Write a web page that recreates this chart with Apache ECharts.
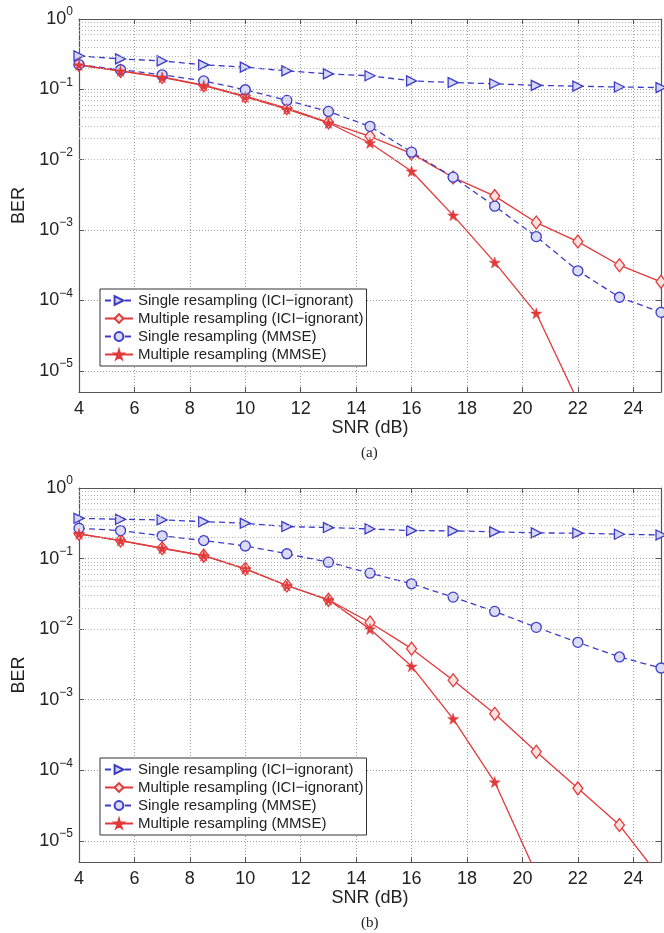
<!DOCTYPE html>
<html>
<head>
<meta charset="utf-8">
<script src="https://cdn.jsdelivr.net/npm/echarts@6/dist/echarts.min.js"></script>
<style>
html,body{margin:0;padding:0;background:#fff;}
#chart{width:664px;height:933px;}
</style>
</head>
<body>
<div id="chart"></div>
<script>
// ---- data ----
const snr = [4, 5.5, 7, 8.5, 10, 11.5, 13, 14.5, 16, 17.5, 19, 20.5, 22, 23.5, 25];
const seriesNames = [
  'Single resampling (ICI\u2212ignorant)',
  'Multiple resampling (ICI\u2212ignorant)',
  'Single resampling (MMSE)',
  'Multiple resampling (MMSE)'
];
// panel (a)
const aSingleIci  = [0.299, 0.271, 0.254, 0.223, 0.207, 0.183, 0.166, 0.156, 0.132, 0.125, 0.120, 0.114, 0.111, 0.108, 0.106];
const aMultiIci   = [0.222, 0.183, 0.150, 0.115, 0.080, 0.054, 0.034, 0.0215, 0.0122, 0.0056, 0.00304, 0.00128, 0.000687, 0.000317, 0.000184];
const aSingleMmse = [0.225, 0.190, 0.161, 0.132, 0.0987, 0.0697, 0.0486, 0.0298, 0.0128, 0.00565, 0.00219, 0.000809, 0.000264, 0.000111, 0.0000678];
const aMultiMmse  = [0.222, 0.182, 0.148, 0.113, 0.078, 0.0525, 0.0333, 0.0173, 0.00687, 0.00162, 0.000347, 0.0000656, 0.0000037];
// panel (b)
const bSingleIci  = [0.372, 0.360, 0.353, 0.334, 0.316, 0.284, 0.275, 0.263, 0.249, 0.247, 0.239, 0.231, 0.229, 0.221, 0.216];
const bMultiIci   = [0.224, 0.180, 0.140, 0.110, 0.0715, 0.0415, 0.026, 0.0124, 0.00528, 0.00188, 0.00063, 0.000183, 0.0000553, 0.0000167, 0.0000029];
const bSingleMmse = [0.269, 0.249, 0.210, 0.180, 0.151, 0.117, 0.0889, 0.0621, 0.0439, 0.0284, 0.0178, 0.0106, 0.00649, 0.00403, 0.00281];
const bMultiMmse  = [0.224, 0.180, 0.140, 0.110, 0.0715, 0.0415, 0.026, 0.0100, 0.00297, 0.000535, 0.0000679, 0.0000034];
const xTicks = [4, 6, 8, 10, 12, 14, 16, 18, 20, 22, 24];
const captions = ['(a)', '(b)'];

// ---- styling ----
const BLUE = '#3c3cc8';
const RED = '#e23a3a';
const FONT = 'Liberation Sans, Arial, sans-serif';
const STAR = 'path://M50,0 L61,35 L98,35 L68,57 L79,91 L50,70 L21,91 L32,57 L2,35 L39,35 Z';

function pairs(ys) { return ys.map((y, i) => [snr[i], y]); }

const minorVals = [];
for (let k = -6; k <= -1; k++) {
  for (let m = 2; m <= 9; m++) {
    const v = m * Math.pow(10, k);
    if (v >= 5e-6 && v < 1) minorVals.push(v);
  }
}

const grids = [
  {left: 79, top: 19, width: 584, height: 373},
  {left: 79, top: 488, width: 584, height: 374}
];

const panels = [
  [aSingleIci, aMultiIci, aSingleMmse, aMultiMmse],
  [bSingleIci, bMultiIci, bSingleMmse, bMultiMmse]
];

const xAxis = [], yAxis = [], series = [], legend = [], title = [];
const gridLine = {type: [1, 2], color: '#9c9c9c', width: 1};

function yLabel(v) {
  const l = Math.log10(v);
  const e = Math.round(l);
  if (Math.abs(l - e) > 1e-6) return '';
  return '{b|10}{s|' + (e === 0 ? '0' : '\u2212' + (-e)) + '}';
}

panels.forEach((p, gi) => {
  // bottom x axis
  xAxis.push({
    type: 'value', gridIndex: gi, min: 4, max: 25, interval: 2, position: 'bottom',
    name: 'SNR (dB)', nameLocation: 'middle', nameGap: 24,
    nameTextStyle: {fontFamily: FONT, fontSize: 18, color: '#222'},
    axisLine: {show: true, lineStyle: {color: '#555', width: 1.2}},
    axisTick: {show: true, inside: true, length: 5, lineStyle: {color: '#555'}},
    axisLabel: {fontFamily: FONT, fontSize: 18, color: '#222', margin: 8,
      formatter: v => (xTicks.indexOf(v) >= 0 ? String(v) : '')},
    splitLine: {show: true, lineStyle: gridLine}
  });
  // top x axis (box)
  xAxis.push({
    type: 'value', gridIndex: gi, min: 4, max: 25, interval: 2, position: 'top',
    axisLine: {show: true, lineStyle: {color: '#555', width: 1.2}},
    axisTick: {show: true, inside: true, length: 5, lineStyle: {color: '#555'}},
    axisLabel: {show: false}, splitLine: {show: false}
  });
  // left log y axis
  yAxis.push({
    type: 'log', logBase: 10, gridIndex: gi, min: 5e-6, max: 1, position: 'left',
    name: 'BER', nameLocation: 'middle', nameGap: 47,
    nameTextStyle: {fontFamily: FONT, fontSize: 18, color: '#222'},
    axisLine: {show: true, lineStyle: {color: '#555', width: 1.2}},
    axisTick: {show: true, inside: true, length: 5, lineStyle: {color: '#555'}},
    axisLabel: {
      formatter: yLabel, margin: 6,
      rich: {
        b: {fontFamily: FONT, fontSize: 18, color: '#222'},
        s: {fontFamily: FONT, fontSize: 12, color: '#222', padding: [0, 0, 14, 0]}
      }
    },
    splitLine: {show: true, lineStyle: gridLine}
  });
  // right log y axis (box)
  yAxis.push({
    type: 'log', logBase: 10, gridIndex: gi, min: 5e-6, max: 1, position: 'right',
    axisLine: {show: true, lineStyle: {color: '#555', width: 1.2}},
    axisTick: {show: true, inside: true, length: 5, lineStyle: {color: '#555'}},
    axisLabel: {show: false}, splitLine: {show: false}
  });

  const xi = gi * 2, yi = gi * 2;
  // minor log grid lines
  series.push({
    type: 'line', name: 'minorgrid' + gi, xAxisIndex: xi, yAxisIndex: yi, data: [], z: 1,
    silent: true,
    markLine: {
      silent: true, symbol: 'none', label: {show: false}, animation: false,
      lineStyle: {type: [1, 2], color: '#b4b4b4', width: 1},
      data: minorVals.map(v => ({yAxis: v}))
    }
  });

  const common = {type: 'line', xAxisIndex: xi, yAxisIndex: yi, z: 3, clip: true};
  series.push(Object.assign({}, common, {
    name: seriesNames[0], data: pairs(p[0]),
    symbol: 'triangle', symbolRotate: -90, symbolSize: [10, 10],
    lineStyle: {color: BLUE, width: 1.3, type: [6, 4]},
    itemStyle: {color: '#d6d6f6', borderColor: BLUE, borderWidth: 1.3}
  }));
  series.push(Object.assign({}, common, {
    name: seriesNames[1], data: pairs(p[1]),
    symbol: 'diamond', symbolSize: [10, 13],
    lineStyle: {color: RED, width: 1.3},
    itemStyle: {color: '#fbe0e0', borderColor: RED, borderWidth: 1.3}
  }));
  series.push(Object.assign({}, common, {
    name: seriesNames[2], data: pairs(p[2]),
    symbol: 'circle', symbolSize: 10,
    lineStyle: {color: BLUE, width: 1.3, type: [6, 4]},
    itemStyle: {color: '#dcdcf6', borderColor: BLUE, borderWidth: 1.3}
  }));
  series.push(Object.assign({}, common, {
    name: seriesNames[3], data: pairs(p[3]),
    symbol: STAR, symbolSize: 11,
    lineStyle: {color: RED, width: 1.3},
    itemStyle: {color: RED, borderColor: RED, borderWidth: 0.5}
  }));

  legend.push({
    data: seriesNames, orient: 'vertical',
    left: 100, top: grids[gi].top + 270,
    backgroundColor: '#fff', borderColor: '#333', borderWidth: 1,
    padding: [4, 3, 4, 4], itemGap: 3, itemWidth: 28, itemHeight: 11,
    selectedMode: false,
    textStyle: {fontFamily: FONT, fontSize: 15, color: '#222'}
  });

  title.push({
    text: captions[gi], left: 361, top: grids[gi].top + grids[gi].height + 54, padding: 0,
    textStyle: {fontFamily: 'Liberation Serif, Times New Roman, serif', fontSize: 15, fontWeight: 'normal', color: '#222'}
  });
});

const chart = echarts.init(document.getElementById('chart'), null, {renderer: 'canvas'});
chart.setOption({
  animation: false,
  backgroundColor: '#fff',
  title: title,
  grid: grids,
  xAxis: xAxis,
  yAxis: yAxis,
  legend: legend,
  series: series
});
</script>
</body>
</html>
